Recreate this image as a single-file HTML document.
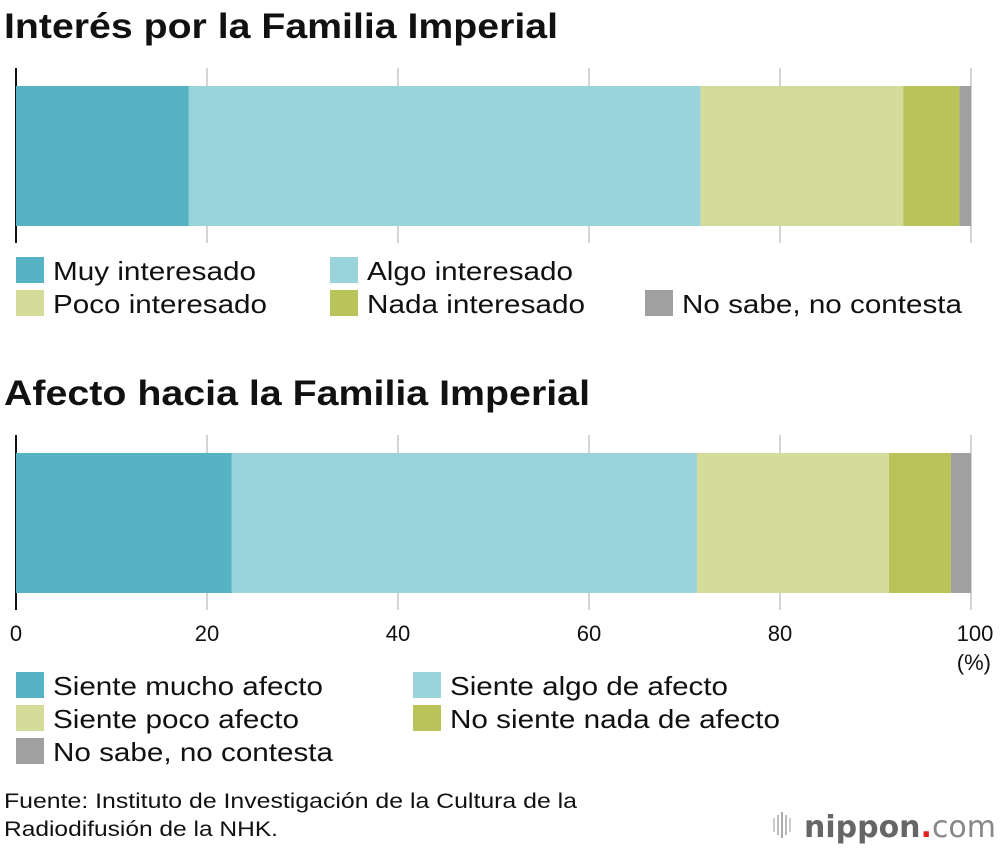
<!DOCTYPE html>
<html><head><meta charset="utf-8"><style>
body{margin:0;background:#fff;width:1000px;height:850px;overflow:hidden;font-family:"Liberation Sans",sans-serif;}
svg{display:block}
</style></head><body>
<svg width="1000" height="850">
<text x="4" y="38" font-size="35" font-weight="bold" fill="#111" textLength="554" lengthAdjust="spacingAndGlyphs">Interés por la Familia Imperial</text>
<text x="4" y="405" font-size="35" font-weight="bold" fill="#111" textLength="586" lengthAdjust="spacingAndGlyphs">Afecto hacia la Familia Imperial</text>
<g id="grid"></g>
<g id="bars"></g>
<g id="ticks"></g>
<text x="991" y="670" font-size="22" text-anchor="end" fill="#111">(%)</text>
<g id="leg"></g>
<text x="4" y="808" font-size="21" fill="#111" textLength="573" lengthAdjust="spacingAndGlyphs">Fuente: Instituto de Investigación de la Cultura de la</text>
<text x="4" y="836" font-size="21" fill="#111" textLength="274" lengthAdjust="spacingAndGlyphs">Radiodifusión de la NHK.</text>
<g>
<rect x="773" y="818" width="2" height="14" fill="#ccc"/><rect x="777" y="815" width="2" height="20" fill="#bbb"/><rect x="781" y="812" width="2" height="26" fill="#aaa"/><rect x="785" y="815" width="2" height="20" fill="#bbb"/><rect x="789" y="818" width="2" height="14" fill="#ccc"/>
<text x="804" y="837" font-size="30" font-family="DejaVu Sans, sans-serif" fill="#666" font-weight="bold" textLength="192" lengthAdjust="spacingAndGlyphs">nippon<tspan fill="#e0201c">.</tspan><tspan font-weight="normal" fill="#888">com</tspan></text>
</g>
</svg>
<script>
const ticks=[0,20,40,60,80,100];
const colors=["#55b3c4","#9bd3dc","#d5dc9a","#b8c45a","#a0a0a0"];
const interestVals=[18.1,53.6,21.2,5.9,1.2];
const affectVals=[22.6,48.7,20.1,6.5,2.1];
const interestLabels=["Muy interesado","Algo interesado","Poco interesado","Nada interesado","No sabe, no contesta"];
const affectLabels=["Siente mucho afecto","Siente algo de afecto","Siente poco afecto","No siente nada de afecto","No sabe, no contesta"];
const NS="http://www.w3.org/2000/svg";
const x=v=>16+v*9.55;
function mk(tag,attrs,parent){const e=document.createElementNS(NS,tag);for(const k in attrs)e.setAttribute(k,attrs[k]);document.getElementById(parent).appendChild(e);return e;}
const panels=[{vals:interestVals,top:68,bot:243,by:86,name:"interest"},{vals:affectVals,top:435,bot:610,by:453,name:"affection"}];
panels.forEach(p=>{
 ticks.forEach(t=>{if(t===0)return;const l=mk("line",{x1:x(t),x2:x(t),y1:p.top,y2:p.bot,stroke:"#d4d4d4","stroke-width":2},"grid");
 
 });
 let c=0;p.vals.forEach((v,i)=>{const r=mk("rect",{x:x(c),y:p.by,width:x(c+v)-x(c),height:140,fill:colors[i]},"bars");
 
 c+=v;});
 const a=mk("line",{x1:16,x2:16,y1:p.top,y2:p.bot,stroke:"#111","stroke-width":2},"grid");
 
 
});
ticks.forEach(t=>{const tx=mk("text",{x:x(t)+(t===100?4:0),y:641,"font-size":22,"text-anchor":"middle",fill:"#111"},"ticks");tx.textContent=t;
 
 });
function legend(labels,pos){labels.forEach((s,i)=>{const [lx,ly]=pos[i];
 const r=mk("rect",{x:lx,y:ly,width:28,height:26,fill:colors[i]},"leg");
 
 
 const t=mk("text",{x:lx+37,y:ly+23,"font-size":26,fill:"#111"},"leg");t.textContent=s;
 t.setAttribute('textLength',Math.round(t.getComputedTextLength()*1.14));
 t.setAttribute('lengthAdjust','spacingAndGlyphs');
 
 });}
legend(interestLabels,[[16,257],[330,257],[16,290],[330,290],[645,290]]);
legend(affectLabels,[[16,672],[413,672],[16,705],[413,705],[16,738]]);
</script>
</body></html>
